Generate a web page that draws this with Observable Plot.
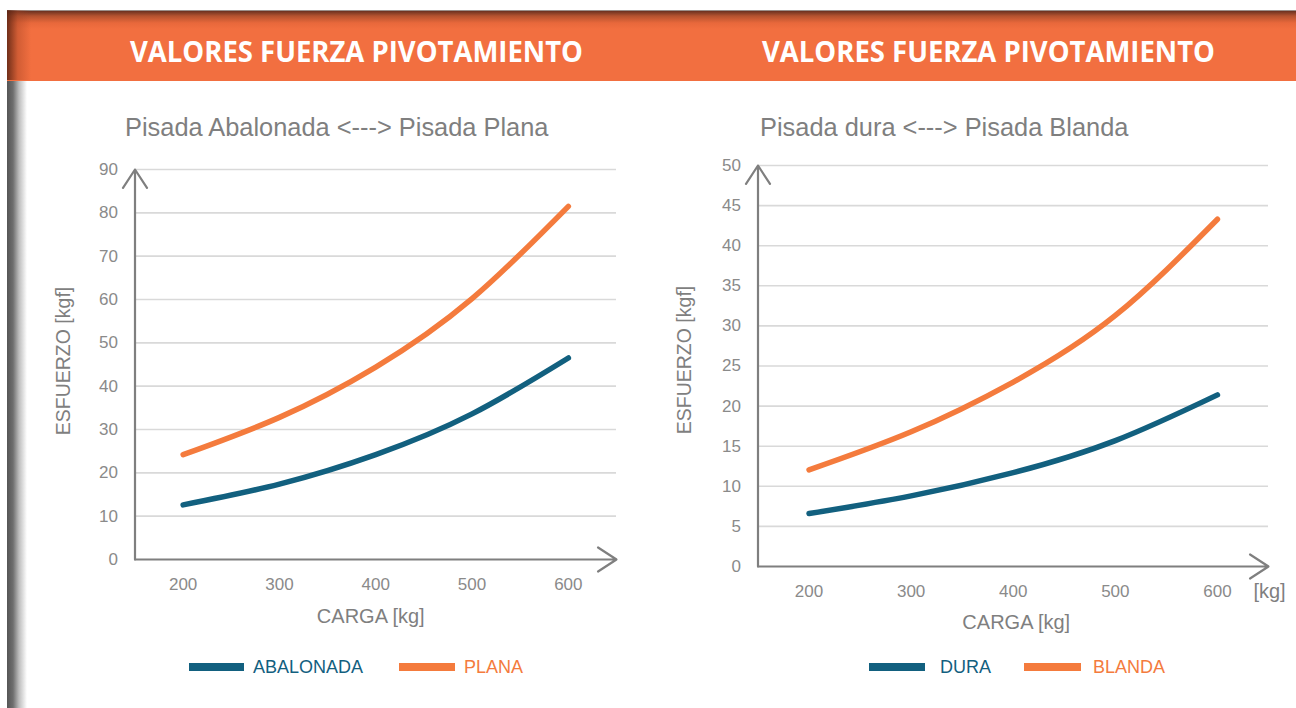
<!DOCTYPE html>
<html>
<head>
<meta charset="utf-8">
<script src="https://cdn.jsdelivr.net/npm/d3@7"></script>
<script src="https://cdn.jsdelivr.net/npm/@observablehq/plot@0.6"></script>
<style>
  html, body { margin: 0; padding: 0; }
  body { width: 1296px; height: 708px; position: relative; overflow: hidden; background: #fff;
         font-family: "Liberation Sans", Arial, sans-serif; }
  .abs { position: absolute; }
  .title { color: #7f7f7f; font-size: 25.4px; line-height: 30px; white-space: nowrap; }
  .leg { font-size: 18px; line-height: 20px; white-space: nowrap; }
  .ylab { color: #7f7f7f; font-size: 19.5px; line-height: 22px; white-space: nowrap;
          transform: translate(-50%, -50%) rotate(-90deg); }
</style>
</head>
<body>
<script>
// ---- data ----
const carga = [200, 300, 400, 500, 600];
const abalonada = [12.6, 17.4, 24.2, 33.6, 46.5];
const plana = [24.2, 32.8, 44.4, 60.2, 81.5];
const dura = [6.6, 8.8, 11.7, 15.7, 21.4];
const blanda = [12.05, 16.8, 23.0, 31.3, 43.3];

const xTicks = [200, 300, 400, 500, 600];
const xDomain = [150, 650];
const yTicksL = [0, 10, 20, 30, 40, 50, 60, 70, 80, 90];
const yTicksR = [0, 5, 10, 15, 20, 25, 30, 35, 40, 45, 50];

const bannerTitle = "VALORES FUERZA PIVOTAMIENTO";
const titleL = "Pisada Abalonada <---> Pisada Plana";
const titleR = "Pisada dura <---> Pisada Blanda";
const seriesL = ["ABALONADA", "PLANA"];
const seriesR = ["DURA", "BLANDA"];
const yLabel = "ESFUERZO [kgf]";
const xLabel = "CARGA [kg]";

const BLUE = "#12607f";
const ORANGE = "#f47b3d";
const GRAY = "#8a8a8a";

// ---- background decoration ----
const body = document.body;
function el(tag, style, cls) {
  const e = document.createElement(tag);
  e.className = cls ? "abs " + cls : "abs";
  Object.assign(e.style, style);
  body.appendChild(e);
  return e;
}
el("div", {left: "7px", top: "10px", width: "20px", height: "698px",
  background: "linear-gradient(to right, #555 0%, #6e6e6e 30%, #bdbdbd 60%, #fff 100%)"});
el("div", {left: "7px", top: "10px", width: "1289px", height: "70px",
  background: "linear-gradient(to bottom, #6a3120 0px, #b4522f 5px, #e8683b 12px, #f26f40 18px, #f26f40 100%)",
  borderTop: "1px solid #9a8f8a"});
el("div", {left: "7px", top: "10px", width: "24px", height: "70px",
  background: "linear-gradient(to right, rgba(90,35,18,0.85) 0%, rgba(160,65,35,0.4) 45%, rgba(242,111,64,0) 100%)"});

// banner titles
const ns = "http://www.w3.org/2000/svg";
const bsvg = document.createElementNS(ns, "svg");
bsvg.setAttribute("width", 1296); bsvg.setAttribute("height", 90);
bsvg.setAttribute("class", "abs");
bsvg.style.left = "0px"; bsvg.style.top = "0px";
[356.5, 988.5].forEach(cx => {
  const t = document.createElementNS(ns, "text");
  t.setAttribute("x", cx); t.setAttribute("y", 62);
  t.setAttribute("text-anchor", "middle");
  t.setAttribute("fill", "#fff");
  t.setAttribute("font-family", "'Open Sans', 'Liberation Sans', sans-serif");
  t.setAttribute("font-weight", "700");
  t.setAttribute("font-size", "29");
  t.setAttribute("textLength", "453");
  t.setAttribute("lengthAdjust", "spacingAndGlyphs");
  t.textContent = bannerTitle;
  bsvg.appendChild(t);
});
body.appendChild(bsvg);

// chart titles
el("div", {left: "125px", top: "112px"}, "title").textContent = titleL;
el("div", {left: "760px", top: "112px"}, "title").textContent = titleR;

// y-axis titles (rotated)
el("div", {left: "63px", top: "361px"}, "ylab").textContent = yLabel;
el("div", {left: "684px", top: "360px"}, "ylab").textContent = yLabel;

// ---- charts ----
function chart({vals1, vals2, yTicks, yMax, left, top, width, height, mL, mR, mT, mB, xlDx, xlDy, extraKg}) {
  const rows1 = carga.map((c, i) => ({carga: c, v: vals1[i]}));
  const rows2 = carga.map((c, i) => ({carga: c, v: vals2[i]}));
  const marks = [
    Plot.ruleY(yTicks.filter(d => d > 0), {stroke: "#d9d9d9", strokeWidth: 1.6}),
    Plot.arrow([0], {x1: xDomain[0], x2: xDomain[1], y1: 0, y2: 0, stroke: "#7f7f7f", strokeWidth: 2.2, headLength: 15, headAngle: 66}),
    Plot.arrow([0], {x1: xDomain[0], x2: xDomain[0], y1: 0, y2: yMax, stroke: "#7f7f7f", strokeWidth: 2.2, headLength: 15, headAngle: 66}),
    Plot.line(rows1, {x: "carga", y: "v", stroke: BLUE, strokeWidth: 5.5, curve: "natural", strokeLinecap: "round"}),
    Plot.line(rows2, {x: "carga", y: "v", stroke: ORANGE, strokeWidth: 5.5, curve: "natural", strokeLinecap: "round"}),
    Plot.axisX({ticks: xTicks, tickSize: 0, tickPadding: 18, fontSize: 17, fill: GRAY, label: null}),
    Plot.axisY({ticks: yTicks, tickSize: 0, tickPadding: 17, fontSize: 17, fill: GRAY, label: null}),
    Plot.text([xLabel], {frameAnchor: "bottom", dx: xlDx, dy: xlDy, fontSize: 20, fill: "#7f7f7f"})
  ];
  if (extraKg) marks.push(Plot.text(["[kg]"], {frameAnchor: "bottom-right", textAnchor: "middle", dx: 1, dy: 31, fontSize: 20, fill: "#7f7f7f"}));
  const p = Plot.plot({
    width, height,
    marginLeft: mL, marginRight: mR, marginTop: mT, marginBottom: mB,
    x: {domain: xDomain},
    y: {domain: [0, yMax]},
    style: {background: "transparent", overflow: "visible", fontFamily: "'Liberation Sans', Arial, sans-serif"},
    marks
  });
  const wrap = el("div", {left: left + "px", top: top + "px", width: width + "px", height: height + "px"});
  wrap.appendChild(p);
}

chart({vals1: abalonada, vals2: plana, yTicks: yTicksL, yMax: 90,
  left: 0, top: 90, width: 648, height: 618, mL: 134.5, mR: 32, mT: 79, mB: 149,
  xlDx: -5, xlDy: 63});
chart({vals1: dura, vals2: blanda, yTicks: yTicksR, yMax: 50,
  left: 648, top: 90, width: 648, height: 618, mL: 109.5, mR: 28, mT: 75, mB: 142,
  xlDx: 3, xlDy: 62, extraKg: true});

// ---- legends ----
function legend(items) {
  items.forEach(([x0, x1, tx, name, color]) => {
    el("div", {left: x0 + "px", top: "663px", width: (x1 - x0) + "px", height: "8px", background: color});
    const t = el("div", {left: tx + "px", top: "657px", color}, "leg");
    t.textContent = name;
  });
}
legend([[189, 244, 253, seriesL[0], BLUE], [399, 455, 464, seriesL[1], ORANGE]]);
legend([[869, 925, 940, seriesR[0], BLUE], [1024, 1081, 1093, seriesR[1], ORANGE]]);
</script>
</body>
</html>
